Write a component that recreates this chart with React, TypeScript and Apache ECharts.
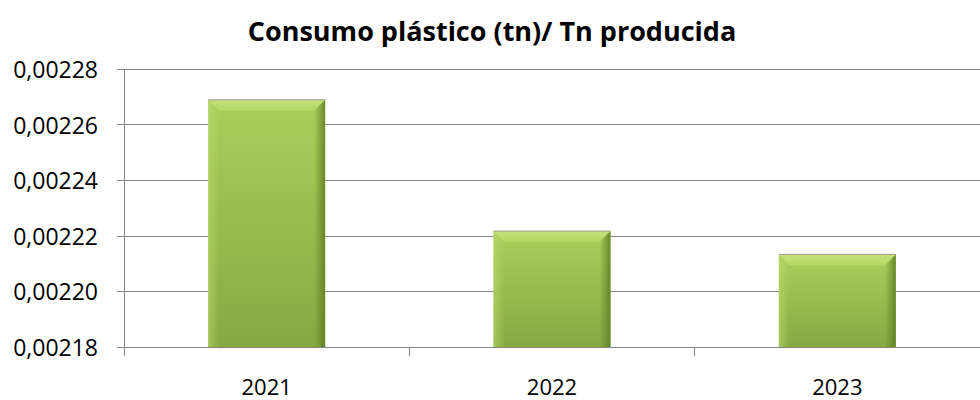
import React, { useEffect, useRef } from "react";
import * as echarts from "echarts";

const title = "Consumo plástico (tn)/ Tn producida";
const categories = ["2021", "2022", "2023"];
const values = [0.0022689, 0.0022217, 0.0022133];
const yMin = 0.00218;
const yMax = 0.00228;
const yStep = 0.00002;

const FONT = "Open Sans";

export default function App() {
  const ref = useRef<HTMLDivElement>(null);
  useEffect(() => {
    if (!ref.current) return;
    const chart = echarts.init(ref.current, null, { renderer: "svg" });
    const LG = echarts.graphic.LinearGradient;
    chart.setOption({
      animation: false,
      backgroundColor: "#ffffff",
      title: {
        text: title,
        left: 487,
        top: 12,
        textAlign: "center",
        textStyle: { fontFamily: FONT, fontWeight: "bold", fontSize: 27, color: "#000" },
      },
      grid: { left: 124, right: -8, top: 69, bottom: 53, containLabel: false },
      xAxis: {
        type: "category",
        data: categories,
        axisLine: { lineStyle: { color: "#868686", width: 1 } },
        axisTick: { show: true, length: 9, lineStyle: { color: "#868686" } },
        axisLabel: { fontFamily: FONT, fontSize: 22, color: "#000", margin: 28 },
      },
      yAxis: {
        type: "value",
        min: yMin,
        max: yMax,
        interval: yStep,
        axisLine: { show: true, lineStyle: { color: "#868686", width: 1 } },
        axisTick: { show: true, length: 7, lineStyle: { color: "#868686" } },
        splitLine: { show: true, lineStyle: { color: "#868686", width: 1 } },
        axisLabel: {
          fontFamily: FONT,
          fontSize: 23,
          color: "#000",
          margin: 26,
          formatter: (v: number) => v.toFixed(5).replace(".", ","),
        },
      },
      series: [
        {
          type: "custom",
          data: values.map((v, i) => [i, v]),
          encode: { x: 0, y: 1 },
          renderItem: (params: any, api: any) => {
            const idx = api.value(0);
            const v = api.value(1);
            const top = api.coord([idx, v]);
            const bot = api.coord([idx, yMin]);
            const bw = api.size([1, 0])[0] * 0.41;
            const x0 = top[0] - bw / 2;
            const x1 = top[0] + bw / 2;
            const y0 = top[1];
            const y1 = bot[1];
            const b = 11;
            return {
              type: "group",
              children: [
                {
                  type: "rect",
                  shape: { x: x0, y: y0, width: bw, height: y1 - y0 },
                  style: {
                    fill: new LG(0, 0, 0, 1, [
                      { offset: 0, color: "#abcf5a" },
                      { offset: 1, color: "#88a843" },
                    ]),
                  },
                },
                {
                  type: "polygon",
                  shape: { points: [[x0, y0], [x1, y0], [x1 - b, y0 + b], [x0 + b, y0 + b]] },
                  style: {
                    fill: new LG(0, 0, 0, 1, [
                      { offset: 0, color: "#c6e27a" },
                      { offset: 1, color: "#b4d764" },
                    ]),
                  },
                },
                {
                  type: "polygon",
                  shape: { points: [[x0, y0], [x0 + b, y0 + b], [x0 + b, y1], [x0, y1]] },
                  style: {
                    fill: new LG(0, 0, 1, 0, [
                      { offset: 0, color: "rgba(190,220,110,0.55)" },
                      { offset: 1, color: "rgba(190,220,110,0)" },
                    ]),
                  },
                },
                {
                  type: "polygon",
                  shape: { points: [[x1, y0], [x1, y1], [x1 - b, y1], [x1 - b, y0 + b]] },
                  style: {
                    fill: new LG(0, 0, 1, 0, [
                      { offset: 0, color: "rgba(95,125,35,0)" },
                      { offset: 1, color: "rgba(95,125,35,0.85)" },
                    ]),
                  },
                },
                {
                  type: "line",
                  shape: { x1: x0, y1: y0, x2: x1, y2: y0 },
                  style: { stroke: "#9a9a9a", lineWidth: 1 },
                },
              ],
            };
          },
        },
      ],
    });
    return () => chart.dispose();
  }, []);
  return <div ref={ref} style={{ width: 980, height: 400, position: "absolute", left: 0, top: 0 }} />;
}
